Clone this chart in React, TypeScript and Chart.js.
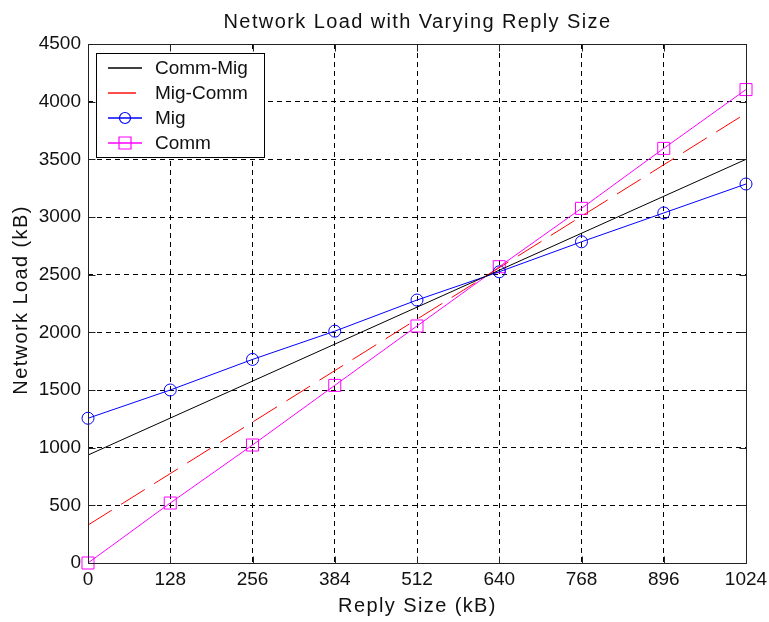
import React, { useEffect, useRef } from "react";
import { Chart, registerables } from "chart.js";

Chart.register(...registerables);

// Reply sizes (kB) at which the measured series were sampled
const replySizes = [0, 128, 256, 384, 512, 640, 768, 896, 1024];
// Measured network load (kB)
const migLoad = [1255, 1500, 1765, 2010, 2280, 2525, 2785, 3035, 3286];
const commLoad = [0, 520, 1023, 1540, 2055, 2569, 3075, 3595, 4105];
// Straight-line models, given by their end points
const modelSizes = [0, 1024];
const commMigLoad = [936, 3500];
const migCommLoad = [329, 3899];

const xTicks = [0, 128, 256, 384, 512, 640, 768, 896, 1024];
const yTicks = [0, 500, 1000, 1500, 2000, 2500, 3000, 3500, 4000, 4500];

const seriesNames = ["Comm-Mig", "Mig-Comm", "Mig", "Comm"];
const seriesColors = ["#000000", "#ff0000", "#0000ff", "#ff00ff"];
const seriesDashes: number[][] = [[], [28, 11], [], []];
const seriesMarkers = ["none", "none", "circle", "rect"];

const FONT = "'Liberation Sans', Arial, Helvetica, sans-serif";

const pts = (xs: number[], ys: number[]) => xs.map((x, i) => ({ x, y: ys[i] }));

// Frame, inward tick marks, title, axis titles and the boxed legend
const decorations = {
  id: "decorations",
  afterDatasetsDraw(chart: any) {
    const { ctx, scales } = chart;
    const xs = scales.x;
    const ys = scales.y;
    ctx.save();
    ctx.strokeStyle = "#222";
    ctx.lineWidth = 1;
    ctx.setLineDash([]);
    const L = Math.round(xs.getPixelForValue(xTicks[0])) + 0.5;
    const R = Math.round(xs.getPixelForValue(xTicks[xTicks.length - 1])) + 0.5;
    const T = Math.round(ys.getPixelForValue(yTicks[yTicks.length - 1])) + 0.5;
    const B = Math.round(ys.getPixelForValue(yTicks[0])) + 0.5;
    ctx.beginPath();
    ctx.rect(L, T, R - L, B - T);
    ctx.stroke();
    const tl = 7;
    ctx.beginPath();
    for (const v of xTicks) {
      const px = Math.round(xs.getPixelForValue(v)) + 0.5;
      ctx.moveTo(px, B);
      ctx.lineTo(px, B - tl);
      ctx.moveTo(px, T);
      ctx.lineTo(px, T + tl);
    }
    for (const v of yTicks) {
      const py = Math.round(ys.getPixelForValue(v)) + 0.5;
      ctx.moveTo(L, py);
      ctx.lineTo(L + tl, py);
      ctx.moveTo(R, py);
      ctx.lineTo(R - tl, py);
    }
    ctx.stroke();

    // legend box
    const bx = 96.5, by = 53.5, bw = 168, bh = 104;
    ctx.fillStyle = "#fff";
    ctx.fillRect(bx, by, bw, bh);
    ctx.strokeStyle = "#000";
    ctx.strokeRect(bx, by, bw, bh);
    const rowY = [68, 93, 118, 143];
    seriesNames.forEach((name, i) => {
      const y = rowY[i];
      ctx.strokeStyle = seriesColors[i];
      ctx.lineWidth = 1.4;
      ctx.setLineDash(seriesDashes[i].slice());
      ctx.beginPath();
      ctx.moveTo(108, y);
      ctx.lineTo(142, y);
      ctx.stroke();
      ctx.setLineDash([]);
      ctx.lineWidth = 1.2;
      ctx.beginPath();
      if (seriesMarkers[i] === "rect") {
        ctx.rect(119, y - 6, 12, 12);
        ctx.stroke();
      } else if (seriesMarkers[i] === "circle") {
        ctx.arc(125, y, 5.5, 0, Math.PI * 2);
        ctx.stroke();
      }
      ctx.fillStyle = "#111";
      ctx.font = `19px ${FONT}`;
      ctx.textAlign = "left";
      ctx.textBaseline = "middle";
      ctx.fillText(name, 155, y + 1);
    });

    // titles
    ctx.fillStyle = "#111";
    (ctx as any).letterSpacing = "1.4px";
    ctx.font = `20px ${FONT}`;
    ctx.textAlign = "center";
    ctx.textBaseline = "alphabetic";
    const cx = (L + R) / 2;
    ctx.fillText("Network Load with Varying Reply Size", cx, 28);
    ctx.fillText("Reply Size (kB)", cx, 612);
    ctx.translate(27, (T + B) / 2 - 4);
    ctx.rotate(-Math.PI / 2);
    ctx.fillText("Network Load (kB)", 0, 0);
    ctx.restore();
  },
};

// keep the plot box fixed: no extra room reserved for overhanging tick labels
const noScalePadding = (s: any) => {
  s.paddingLeft = 0;
  s.paddingRight = 0;
  s.paddingTop = 0;
  s.paddingBottom = 0;
};

export default function App() {
  const ref = useRef<HTMLCanvasElement>(null);

  useEffect(() => {
    document.body.style.margin = "0";
    const seriesData = [
      pts(modelSizes, commMigLoad),
      pts(modelSizes, migCommLoad),
      pts(replySizes, migLoad),
      pts(replySizes, commLoad),
    ];
    const chart = new Chart(ref.current!, {
      type: "line",
      data: {
        datasets: seriesNames.map((name, i) => ({
          label: name,
          data: seriesData[i],
          borderColor: seriesColors[i],
          borderWidth: 1,
          borderDash: seriesDashes[i],
          pointStyle: seriesMarkers[i] === "rect" ? "rect" : "circle",
          pointRadius: seriesMarkers[i] === "none" ? 0 : seriesMarkers[i] === "rect" ? 8.5 : 6,
          pointBorderWidth: 1,
          pointBorderColor: seriesColors[i],
          pointBackgroundColor: "rgba(0,0,0,0)",
        })),
      },
      options: {
        animation: false,
        responsive: false,
        devicePixelRatio: 1,
        clip: false as any,
        layout: { autoPadding: false, padding: { top: 44, right: 23, left: 0, bottom: 0 } },
        plugins: {
          legend: { display: false },
          tooltip: { enabled: false },
          title: { display: false },
        },
        scales: {
          x: {
            type: "linear",
            min: 0,
            max: 1024,
            afterBuildTicks: (s: any) => {
              s.ticks = xTicks.map((v) => ({ value: v }));
            },
            afterFit: (s: any) => {
              s.height = 59;
              noScalePadding(s);
            },
            ticks: {
              color: "#111",
              font: { family: FONT, size: 19 },
              padding: 5,
              maxRotation: 0,
              autoSkip: false,
              callback: (v: any) => String(v),
            },
            grid: { color: "#000", lineWidth: 1, drawTicks: false },
            border: { display: false, dash: [5, 4] },
          },
          y: {
            type: "linear",
            min: 0,
            max: 4500,
            afterBuildTicks: (s: any) => {
              s.ticks = yTicks.map((v) => ({ value: v }));
            },
            afterFit: (s: any) => {
              s.width = 88;
              noScalePadding(s);
            },
            ticks: {
              color: "#111",
              font: { family: FONT, size: 19 },
              padding: 7,
              autoSkip: false,
              callback: (v: any) => String(v),
            },
            grid: { color: "#000", lineWidth: 1, drawTicks: false },
            border: { display: false, dash: [5, 4] },
          },
        },
      },
      plugins: [decorations],
    });
    return () => chart.destroy();
  }, []);

  return (
    <div style={{ position: "fixed", left: 0, top: 0, width: 769, height: 622, background: "#fff" }}>
      <canvas ref={ref} width={769} height={622} style={{ width: 769, height: 622, display: "block" }} />
    </div>
  );
}
